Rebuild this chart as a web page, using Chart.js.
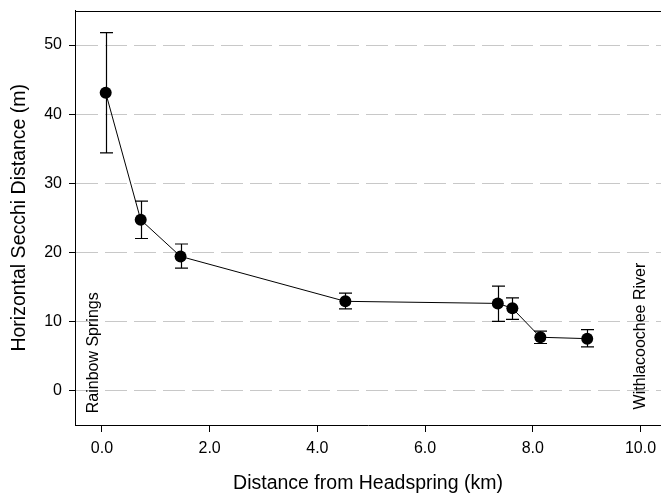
<!DOCTYPE html>
<html>
<head>
<meta charset="utf-8">
<script src="https://cdn.jsdelivr.net/npm/chart.js@4"></script>
<style>
  html, body { margin: 0; padding: 0; background: #fff; }
  #wrap { width: 661px; height: 493px; position: relative; }
</style>
</head>
<body>
<div id="wrap"><canvas id="secchi-chart"></canvas></div>
<script>
// ============================================================
// Horizontal Secchi distance vs distance from headspring
// ============================================================

var distKm   = [0.07, 0.72, 1.46, 4.52, 7.35, 7.62, 8.14, 9.01];
var secchiM  = [43.1, 24.7, 19.4, 12.9, 12.6, 11.9, 7.7, 7.5];
var errUpper = [51.8, 27.4, 21.2, 14.1, 15.1, 13.4, 8.6, 8.8];
var errLower = [34.4, 22.0, 17.7, 11.8, 10.0, 10.3, 6.8, 6.3];

var xTicks = [0, 2, 4, 6, 8, 10];
var yTicks = [0, 10, 20, 30, 40, 50];

var siteNames = ['Rainbow Springs', 'Withlacoochee River'];
var siteKm    = [-0.15, 10.0];
var siteM     = [-3.3, -2.75];

var FONT = '"Liberation Sans", Arial, sans-serif';

// error bars, drawn under the points
var errorBarPlugin = {
  id: 'errorBars',
  beforeDatasetsDraw: function(chart) {
    var ctx = chart.ctx, xs = chart.scales.x, ys = chart.scales.y;
    ctx.save();
    ctx.strokeStyle = '#000';
    ctx.lineWidth = 1.2;
    for (var i = 0; i < distKm.length; i++) {
      var px = Math.round(xs.getPixelForValue(distKm[i])) + 0.5;
      var top = ys.getPixelForValue(errUpper[i]);
      var bot = ys.getPixelForValue(errLower[i]);
      ctx.beginPath();
      ctx.moveTo(px, top); ctx.lineTo(px, bot);
      ctx.moveTo(px - 6.5, top); ctx.lineTo(px + 6.5, top);
      ctx.moveTo(px - 6.5, bot); ctx.lineTo(px + 6.5, bot);
      ctx.stroke();
    }
    ctx.restore();
  }
};

// top frame line + rotated site names
var framePlugin = {
  id: 'frame',
  afterDraw: function(chart) {
    var ctx = chart.ctx, a = chart.chartArea, xs = chart.scales.x, ys = chart.scales.y;
    ctx.save();
    ctx.strokeStyle = '#000';
    ctx.lineWidth = 1;
    ctx.beginPath();
    ctx.moveTo(a.left, Math.round(a.top) + 0.5);
    ctx.lineTo(a.right, Math.round(a.top) + 0.5);
    ctx.stroke();

    ctx.fillStyle = '#000';
    ctx.font = '16px ' + FONT;
    ctx.textAlign = 'left';
    ctx.textBaseline = 'middle';
    siteNames.forEach(function(name, i) {
      ctx.save();
      ctx.translate(xs.getPixelForValue(siteKm[i]), ys.getPixelForValue(siteM[i]));
      ctx.rotate(-Math.PI / 2);
      ctx.fillText(name, 0, 0);
      ctx.restore();
    });
    ctx.restore();
  }
};

new Chart(document.getElementById('secchi-chart'), {
  type: 'line',
  data: {
    datasets: [{
      data: distKm.map(function(d, i) { return { x: d, y: secchiM[i] }; }),
      borderColor: '#000',
      backgroundColor: '#000',
      borderWidth: 1,
      pointRadius: 6,
      pointHoverRadius: 6,
      pointBorderWidth: 0,
      tension: 0
    }]
  },
  options: {
    responsive: true,
    maintainAspectRatio: false,
    animation: false,
    layout: { autoPadding: false, padding: { top: 10.5, right: 0, left: 0, bottom: 0 } },
    plugins: { legend: { display: false }, tooltip: { enabled: false } },
    scales: {
      x: {
        type: 'linear',
        min: -0.5,
        max: 10.38,
        afterBuildTicks: function(s) { s.ticks = xTicks.map(function(v) { return { value: v }; }); },
        afterFit: function(s) { s.height = 68; s.paddingLeft = 0; s.paddingRight = 0; },
        ticks: {
          color: '#000', padding: 7, maxRotation: 0, autoSkip: false,
          font: { family: FONT, size: 16 },
          callback: function(v) { return Number(v).toFixed(1); }
        },
        grid: { drawOnChartArea: false, drawTicks: true, tickLength: 7, tickColor: '#000', tickWidth: 1 },
        border: { color: '#000', width: 1 },
        title: {
          display: true, text: 'Distance from Headspring (km)', color: '#000',
          font: { family: FONT, size: 19.5, lineHeight: 1 },
          padding: { top: 0, bottom: 0 }
        }
      },
      y: {
        min: -5,
        max: 55,
        afterBuildTicks: function(s) { s.ticks = yTicks.map(function(v) { return { value: v }; }); },
        afterFit: function(s) { s.width = 75; s.paddingTop = 0; s.paddingBottom = 0; },
        ticks: {
          color: '#000', padding: 7,
          font: { family: FONT, size: 16 }
        },
        grid: {
          color: '#c8c8c8', lineWidth: 1,
          tickLength: 6, tickColor: '#000', tickWidth: 1, tickBorderDash: []
        },
        border: { color: '#000', width: 1, dash: [22, 7] },
        title: {
          display: true, text: 'Horizontal Secchi Distance (m)', color: '#000',
          font: { family: FONT, size: 19.5, lineHeight: 1 },
          padding: { top: 9.5, bottom: 0 }
        }
      }
    }
  },
  plugins: [errorBarPlugin, framePlugin]
});
</script>
</body>
</html>
